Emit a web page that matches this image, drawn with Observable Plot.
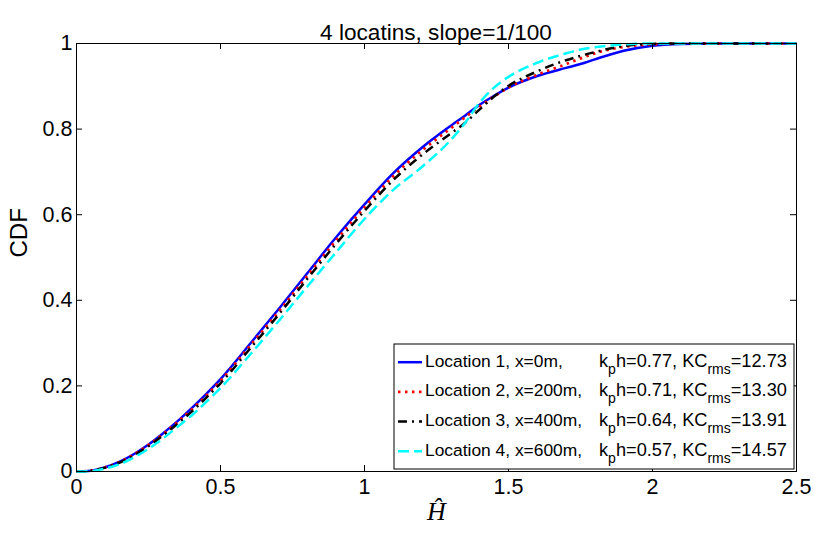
<!DOCTYPE html>
<html><head><meta charset="utf-8">
<script src="https://cdn.jsdelivr.net/npm/d3@7"></script>
<script src="https://cdn.jsdelivr.net/npm/@observablehq/plot@0.6"></script>
<style>
body{margin:0;background:#fff;}
#title{box-sizing:border-box;height:30px;padding-top:23px;margin-left:76px;width:720px;text-align:center;font-family:"Liberation Sans",Arial,sans-serif;font-size:22.6px;line-height:20px;color:#000;white-space:nowrap;}
#chart svg{overflow:visible;}
</style></head><body>
<div id="title">4 locatins, slope=1/100</div>
<div id="chart"></div>
<script>
// ---- data ----
const hGrid = [0, 0.05, 0.1, 0.15, 0.2, 0.25, 0.3, 0.35, 0.4, 0.45, 0.5, 0.6, 0.7, 0.8, 0.9, 1.0, 1.1, 1.2, 1.3, 1.35, 1.4, 1.45, 1.5, 1.6, 1.7, 1.75, 1.8, 1.9, 2.0, 2.1, 2.2, 2.5];
const loc1 = [0, .002, .010, .023, .041, .063, .089, .117, .148, .181, .216, .296, .378, .462, .546, .624, .697, .757, .808, .832, .857, .878, .897, .924, .943, .952, .963, .983, .995, .999, 1, 1];
const loc2 = [0, .002, .010, .022, .040, .062, .087, .115, .145, .177, .212, .292, .372, .456, .539, .617, .690, .750, .802, .828, .853, .876, .897, .927, .952, .965, .977, .992, .998, 1, 1, 1];
const loc3 = [0, .002, .009, .021, .038, .059, .084, .111, .140, .172, .206, .285, .365, .449, .531, .609, .681, .740, .790, .815, .846, .876, .901, .935, .961, .971, .980, .994, .999, 1, 1, 1];
const loc4 = [0, .001, .007, .017, .033, .053, .077, .104, .131, .162, .195, .271, .350, .431, .511, .590, .658, .712, .775, .815, .862, .897, .922, .955, .977, .986, .991, .998, 1, 1, 1, 1];
const legendNames = ["Location 1, x=0m,", "Location 2, x=200m,", "Location 3, x=400m,", "Location 4, x=600m,"];
const kph = ["0.77", "0.71", "0.64", "0.57"];
const kcrms = ["12.73", "13.30", "13.91", "14.57"];
const xTicks = [0, 0.5, 1, 1.5, 2, 2.5];
const yTicks = [0, 0.2, 0.4, 0.6, 0.8, 1];

// ---- styles ----
const styles = [
  {stroke: "#0000ff", strokeWidth: 2.5, strokeDasharray: null},
  {stroke: "#ff0000", strokeWidth: 2.7, strokeDasharray: "2.5,4.5"},
  {stroke: "#000000", strokeWidth: 2.5, strokeDasharray: "9,5,2,5"},
  {stroke: "#00ffff", strokeWidth: 2.5, strokeDasharray: "11,5"}
];
const W = 814, H = 504, mT = 13, mB = 63, mL = 76, mR = 18;
const plotH = H - mT - mB, plotW = W - mL - mR;
const font = "'Liberation Sans', Arial, sans-serif";

const series = [loc1, loc2, loc3, loc4];
const tables = series.map(s => hGrid.map((h, j) => ({h, cdf: s[j]})));

const chart = Plot.plot({
  width: W, height: H,
  marginTop: mT, marginBottom: mB, marginLeft: mL, marginRight: mR,
  style: {fontFamily: font, background: "white", color: "black", overflow: "visible"},
  x: {domain: [0, 2.5]},
  y: {domain: [0, 1]},
  marks: [
    ...tables.map((t, i) => Plot.line(t, {
      x: "h", y: "cdf", curve: "monotone-x",
      stroke: styles[i].stroke, strokeWidth: styles[i].strokeWidth,
      strokeDasharray: styles[i].strokeDasharray,
      strokeLinecap: "butt", strokeLinejoin: "round"
    })),
    Plot.frame({stroke: "black", strokeWidth: 1}),
    Plot.tickX(xTicks, {x: d => d, insetTop: plotH - 6, stroke: "black", strokeWidth: 1}),
    Plot.tickX(xTicks, {x: d => d, insetBottom: plotH - 6, stroke: "black", strokeWidth: 1}),
    Plot.tickY(yTicks, {y: d => d, insetRight: plotW - 6, stroke: "black", strokeWidth: 1}),
    Plot.tickY(yTicks, {y: d => d, insetLeft: plotW - 6, stroke: "black", strokeWidth: 1}),
    Plot.axisX({ticks: xTicks, tickSize: 0, tickPadding: 7, fontSize: 21.5, label: null, tickFormat: d => String(d)}),
    Plot.axisY({ticks: yTicks, tickSize: 0, tickPadding: 4, fontSize: 21.5, label: null, tickFormat: d => String(d)}),
    Plot.text(["CDF"], {frameAnchor: "left", dx: -57, rotate: -90, fontSize: 24, fill: "black"}),
    Plot.text(["Ĥ"], {frameAnchor: "bottom", dy: 48, fontSize: 26, fontStyle: "italic", fontFamily: "'Liberation Serif', 'DejaVu Serif', serif", fill: "black"})
  ]
});
document.getElementById("chart").append(chart);

// ---- legend ----
const svg = d3.select(chart);
const off = 30; // svg top offset in page
const lg = svg.append("g").attr("font-family", font).attr("fill", "black").attr("text-anchor", "start");
lg.append("rect").attr("x", 394).attr("y", 344 - off).attr("width", 400).attr("height", 125)
  .attr("fill", "white").attr("stroke", "black").attr("stroke-width", 1);
legendNames.forEach((name, i) => {
  const base = 366.7 - off + i * 29.7;
  const st = styles[i];
  lg.append("line").attr("x1", 398).attr("x2", 422).attr("y1", base - 4.5).attr("y2", base - 4.5)
    .attr("stroke", st.stroke).attr("stroke-width", st.strokeWidth)
    .attr("stroke-dasharray", st.strokeDasharray).attr("stroke-linecap", "butt");
  lg.append("text").attr("x", 425).attr("y", base).attr("font-size", 17.4).attr("text-anchor", "start").text(name);
  const t = lg.append("text").attr("x", 599).attr("y", base).attr("font-size", 18.2).attr("text-anchor", "start");
  t.append("tspan").text("k");
  t.append("tspan").attr("dy", 7).attr("font-size", 14).text("p");
  t.append("tspan").attr("dy", -7).text("h=" + kph[i] + ", KC");
  t.append("tspan").attr("dy", 7).attr("font-size", 14).text("rms");
  t.append("tspan").attr("dy", -7).text("=" + kcrms[i]);
});
</script>
</body></html>
